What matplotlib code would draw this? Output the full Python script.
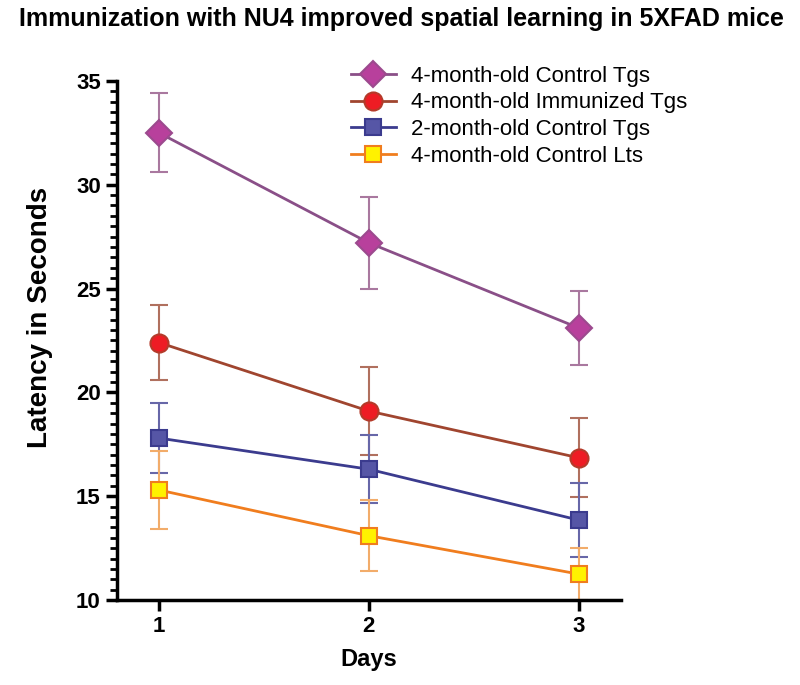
import matplotlib
matplotlib.use("Agg")
import matplotlib.pyplot as plt
from matplotlib.ticker import MultipleLocator

plt.rcParams["font.family"] = ["Liberation Sans", "DejaVu Sans"]

days = [1, 2, 3]
labels = ["4-month-old Control Tgs", "4-month-old Immunized Tgs",
          "2-month-old Control Tgs", "4-month-old Control Lts"]
means = [
    [32.5, 27.2, 23.1],
    [22.4, 19.1, 16.85],
    [17.8, 16.3, 13.85],
    [15.3, 13.1, 11.25],
]
errors = [
    [1.9, 2.2, 1.8],
    [1.8, 2.1, 1.9],
    [1.7, 1.65, 1.8],
    [1.9, 1.7, 1.27],
]

line_colors = ["#8a4f88", "#a0452f", "#3b3b8e", "#f07d1e"]
err_colors = ["#a9789f", "#b0705e", "#6767a8", "#f2ac6a"]
face_colors = ["#b8409c", "#ee1c24", "#5656a6", "#fff200"]
edge_colors = ["#9c4a8e", "#b53a2a", "#3b3b8e", "#f07d1e"]
markers = ["D", "o", "s", "s"]
msizes = [13, 13, 12, 12]

fig = plt.figure(figsize=(8, 6.85), dpi=100)
ax = fig.add_axes([0.146, 0.124, 0.63, 0.758])

handles = []
for i in range(4):
    ax.errorbar(days, means[i], yerr=errors[i], fmt="none", ecolor=err_colors[i],
                elinewidth=1.5, capsize=6.5, capthick=1.5, zorder=2)
    h, = ax.plot(days, means[i], color=line_colors[i], lw=2, marker=markers[i],
                 ms=msizes[i], mfc=face_colors[i], mec=edge_colors[i], mew=1.5,
                 label=labels[i], zorder=3)
    handles.append(h)

ax.set_xlim(0.8, 3.2)
ax.set_ylim(10, 35)
ax.set_xticks(days)
ax.set_yticks([10, 15, 20, 25, 30, 35])
ax.yaxis.set_minor_locator(MultipleLocator(0.5))
for s in ["top", "right"]:
    ax.spines[s].set_visible(False)
for s in ["left", "bottom"]:
    ax.spines[s].set_linewidth(2.5)
ax.tick_params(axis="both", which="major", length=8, width=2.5, labelsize=16)
ax.tick_params(axis="y", which="minor", length=5, width=2)
for t in ax.get_xticklabels() + ax.get_yticklabels():
    t.set_fontweight("bold")

ax.set_xlabel("Days", fontsize=17, fontweight="bold", labelpad=8)
ax.set_ylabel("Latency in Seconds", fontsize=20, fontweight="bold")
ax.yaxis.set_label_coords(-0.127, 0.545)
fig.suptitle("Immunization with NU4 improved spatial learning in 5XFAD mice",
             fontsize=18, fontweight="bold", y=0.99, x=0.502)

fig.legend(handles=handles, loc="upper left", bbox_to_anchor=(0.414, 0.933),
           frameon=False, fontsize=16, handlelength=2.0, labelspacing=0.25,
           handletextpad=0.7)

fig.savefig("out.png", dpi=100)
